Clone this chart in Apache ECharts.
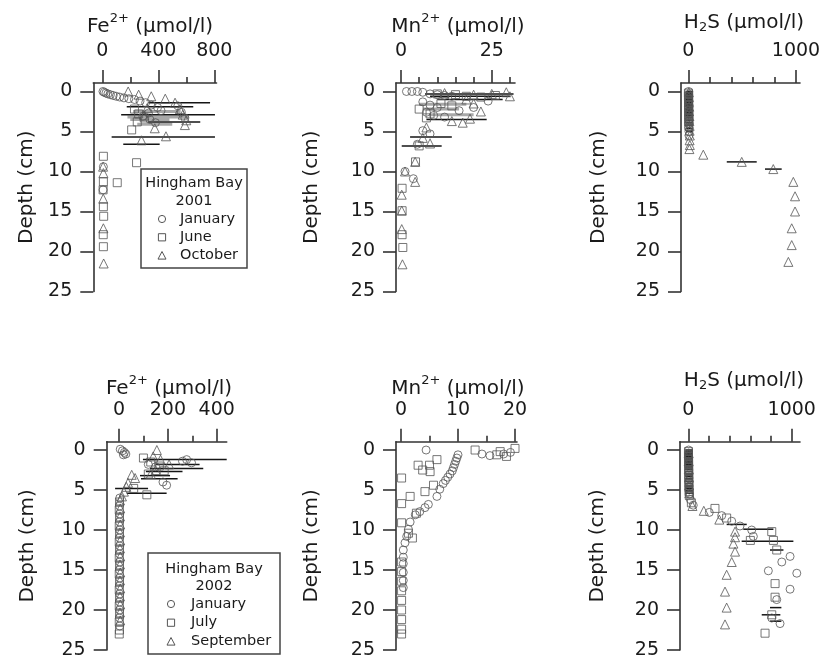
<!DOCTYPE html>
<html><head><meta charset="utf-8">
<script src="https://cdn.jsdelivr.net/npm/echarts@6/dist/echarts.min.js"></script>
<style>html,body{margin:0;padding:0;background:#fff}#c{width:827px;height:668px}</style>
</head><body><div id="c"></div>
<script>
// ---------- axis ticks ----------
const depthTicks = [0, 5, 10, 15, 20, 25];
const fe01Major = [0, 400, 800], fe01Minor = [200, 600];
const mn01Major = [0, 25], mn01Minor = [5, 10, 15, 20, 30];
const h2s01Major = [0, 1000], h2s01Minor = [200, 400, 600, 800];
const fe02Major = [0, 200, 400], fe02Minor = [100, 300];
const mn02Major = [0, 10, 20], mn02Minor = [5, 15];
const h2s02Major = [0, 1000], h2s02Minor = [200, 400, 600, 800];

// ---------- 2001 Fe2+ [value, depth] ----------
const fe01Jan = [[5,0],[14,0.1],[26,0.2],[40,0.3],[58,0.4],[78,0.5],[100,0.6],[125,0.7],[155,0.8],[190,0.9],[230,1.0],[270,1.2],[310,1.4],[350,1.7],[395,2.0],[420,2.4],[330,2.7],[290,3.1],[340,3.5],[380,3.9],[540,1.8],[565,2.6],[590,3.3],[8,9.4],[6,12.3]];
const fe01Jun = [[230,2.2],[260,2.8],[300,3.3],[250,3.8],[210,4.8],[245,8.9],[107,11.4],[8,8.1],[8,11.3],[6,12.3],[8,14.4],[10,15.6],[7,17.9],[8,19.4]];
const fe01Oct = [[185,0],[260,0.4],[350,0.6],[450,0.9],[520,1.4],[555,2.2],[575,2.9],[600,3.6],[590,4.2],[375,4.6],[300,3.0],[320,2.1],[455,5.6],[280,6.1],[6,9.4],[8,10.2],[7,13.4],[8,17.1],[10,21.5]];
const fe01ErrBlack = [[330,770,1.4],[175,650,1.9],[135,805,2.9],[327,700,3.8],[67,805,5.7],[150,410,6.6]];
const fe01ErrGray = [[220,560,2.5],[180,620,3.2],[200,480,3.5],[250,500,4.1]];

// ---------- 2001 Mn2+ ----------
const mn01Jan = [[1.5,0],[3,0],[4.5,0],[6,0.1],[8,0.3],[10,0.4],[12,0.5],[14,0.6],[6,1.3],[8,1.7],[10,2.0],[7,2.6],[9,3.0],[12,3.2],[16,2.4],[20,2.0],[24,1.2],[6,4.9],[8,5.3],[4.5,6.6],[1.1,10.0],[3.4,10.9]];
const mn01Jun = [[10,0.3],[15,0.4],[18,0.6],[22,0.7],[26,0.5],[5,2.2],[8,2.8],[11,1.5],[14,1.8],[7,3.3],[5,6.8],[4,8.8],[0.3,12.1],[0.3,14.9],[0.3,17.9],[0.5,19.5]];
const mn01Oct = [[12,0.2],[20,0.4],[25,0.3],[29,0.1],[30,0.6],[18,1.0],[20,1.5],[22,2.5],[14,3.7],[17,3.9],[19,3.4],[7,4.5],[6,5.8],[8,6.5],[3.9,8.8],[1.1,10.0],[3.9,11.3],[0.2,12.9],[0.2,14.9],[0.2,17.2],[0.4,21.6]];
const mn01ErrBlack = [[6.6,31,0.3],[8,30,0.6],[10,28,1.0],[7,23.6,3.5],[2.5,14,5.7],[0.2,11.2,6.8]];
const mn01ErrGray = [[5,18,1.6],[6,16,2.2],[8,20,2.9]];

// ---------- 2001 H2S ----------
const h2s01Jan = [[2,0],[2,0.4],[3,0.8],[3,1.2],[4,1.6],[4,2.0],[5,2.4],[5,2.8],[5,3.2],[6,3.6],[6,4.0],[6,4.5],[6,5.0],[6,5.5]];
const h2s01Jun = [[1,0.2],[1,0.6],[2,1.0],[2,1.4],[2,1.8],[3,2.2],[3,2.6],[3,3.0],[4,3.4],[4,3.8],[4,4.3]];
const h2s01Oct = [[5,0.1],[6,0.7],[6,1.3],[8,1.9],[8,2.5],[10,3.1],[10,3.7],[12,4.3],[12,4.9],[14,5.5],[12,6.1],[14,6.7],[10,7.2],[139,7.9],[496,8.8],[789,9.7],[975,11.3],[991,13.1],[991,15.0],[960,17.1],[960,19.2],[929,21.3]];
const h2s01ErrBlack = [[357,635,8.8],[712,867,9.7],[-25,45,0.0],[-25,45,0.2],[-25,45,0.4],[-25,45,0.6],[-25,45,0.8],[-25,45,1.0],[-25,45,1.2],[-25,45,1.4],[-25,45,1.6],[-25,45,1.8],[-25,45,2.0],[-25,45,2.2],[-25,45,2.4],[-25,45,2.6],[-25,45,2.8],[-25,45,3.0],[-25,45,3.3],[-25,45,3.6],[-25,45,3.9],[-20,40,4.2],[-20,40,4.6],[-20,40,5.0]];
const h2s01ErrGray = [];

// ---------- 2002 Fe2+ ----------
const fe02Jan = [[5,-0.1],[14,0.1],[22,0.3],[28,0.5],[18,0.6],[120,1.8],[150,2.1],[260,1.4],[277,1.2],[297,1.6],[180,4.0],[195,4.4],[3,6.0],[2,7.0],[3,8.0],[2,9.0],[3,10.0],[2,11.0],[3,12.0],[2,13.0],[3,14.0],[2,15.0],[3,16.0],[2,17.0],[3,18.0],[2,19.0],[3,20.0],[2,21.0],[3,22.0]];
const fe02Jul = [[100,1.0],[130,1.5],[165,2.0],[185,2.6],[120,3.0],[60,4.8],[114,5.6],[2,6.5],[1,7.5],[2,8.5],[1,9.5],[2,10.5],[1,11.5],[2,12.5],[1,13.5],[2,14.5],[1,15.5],[2,16.5],[1,17.5],[2,18.5],[1,19.5],[2,20.5],[1,21.5],[2,22.5],[1,23.0]];
const fe02Sep = [[155,0],[140,0.8],[170,1.2],[205,1.8],[150,2.5],[130,3.0],[52,3.1],[66,3.5],[37,4.1],[30,4.6],[20,5.2],[12,5.8],[4,6.3],[5,7.3],[4,8.3],[5,9.3],[4,10.3],[5,11.3],[4,12.3],[5,13.3],[4,14.3],[5,15.3],[4,16.3],[5,17.3],[4,18.3],[5,19.3],[4,20.3],[5,21.3]];
const fe02ErrBlack = [[98,441,1.2],[150,330,1.8],[127,345,2.3],[110,260,2.7],[86,209,3.2],[90,240,3.6],[-16,119,4.8],[32,195,5.4]];
const fe02ErrGray = [];

// ---------- 2002 Mn2+ ----------
const mn02Jan = [[4.4,0],[14.2,0.5],[15.6,0.7],[18,0.5],[19.2,0.3],[10,0.6],[9.8,1.0],[9.6,1.4],[9.4,1.8],[9.2,2.2],[9.0,2.6],[8.6,3.0],[8.2,3.4],[7.8,3.8],[7.4,4.2],[6.8,4.9],[6.3,5.8],[4.8,6.8],[4.2,7.2],[3.3,7.7],[2.5,8.1],[1.6,9.0],[1.3,9.9],[1.0,10.8],[0.7,11.6],[0.4,12.5],[0.4,13.4],[0.4,14.2],[0.4,15.3],[0.4,16.3],[0.4,17.2]];
const mn02Jul = [[20,-0.2],[17.4,0.2],[13,0],[16.8,0.6],[18.5,0.8],[5,1.9],[3,1.9],[6.3,1.2],[5.1,2.7],[3.8,2.5],[0.1,3.5],[5.7,4.4],[4.2,5.2],[1.6,5.8],[0.1,6.7],[2.7,7.9],[0.1,9.1],[1.3,10.4],[2.0,11.0],[0.1,14.0],[0.1,15.2],[0.1,16.4],[0.1,17.6],[0.1,18.8],[0.1,20.0],[0.1,21.2],[0.1,22.4],[0.1,23.0]];
const mn02Sep = [];
const mn02ErrBlack = [];
const mn02ErrGray = [];

// ---------- 2002 H2S ----------
const h2s02Jan = [[3,0],[3,0.5],[4,1.0],[4,1.5],[5,2.0],[5,2.5],[6,3.0],[6,3.5],[8,4.0],[8,4.5],[10,5.0],[12,5.5],[20,6.2],[48,6.9],[203,7.8],[323,8.2],[420,8.9],[500,9.5],[613,10.0],[629,10.8],[984,13.3],[904,14.0],[1049,15.4],[774,15.1],[984,17.4],[855,18.7],[807,21.0],[887,21.7]];
const h2s02Jul = [[2,0.2],[2,0.7],[3,1.2],[3,1.7],[4,2.2],[4,2.7],[5,3.2],[5,3.7],[6,4.2],[6,4.7],[8,5.2],[10,5.7],[30,6.6],[258,7.3],[371,8.5],[600,11.3],[807,10.2],[823,11.3],[855,12.5],[839,16.7],[839,18.4],[807,20.6],[742,22.9]];
const h2s02Sep = [[4,0.4],[4,1.4],[5,2.4],[6,3.4],[8,4.4],[10,5.4],[40,7.0],[150,7.6],[300,8.7],[452,10.2],[452,10.9],[436,11.7],[452,12.7],[420,14.0],[371,15.6],[355,17.7],[371,19.7],[355,21.8]];
const h2s02ErrBlack = [[371,565,9.3],[532,823,9.9],[516,1016,11.4],[790,920,12.5],[790,900,19.7],[710,890,20.6],[790,900,21.4],[-30,45,0.0],[-30,45,0.2],[-30,45,0.4],[-30,45,0.6],[-30,45,0.8],[-30,45,1.0],[-30,45,1.2],[-30,45,1.4],[-30,45,1.6],[-30,45,1.8],[-30,45,2.0],[-30,45,2.2],[-30,45,2.4],[-30,45,2.7],[-30,45,3.0],[-30,45,3.3],[-30,45,3.6],[-30,45,3.9],[-30,45,4.2],[-30,45,4.5],[-30,45,4.8],[-30,45,5.1],[-30,45,5.4]];
const h2s02ErrGray = [];

// ---------- layout (pixels / axis extents) ----------
const FONT = 'DejaVu Sans';
const TXT = '#1a1a1a';
const AX = '#333333';
const MK = '#555555';

const layout = [
  {left:93.3, top:83, width:123.2, height:208.5, xmin:-64, xmax:816, ymin:-1.06, ymax:25, nameGap:57},
  {left:396, top:83, width:119, height:208.5, xmin:-1.38, xmax:31.4, ymin:-1.06, ymax:25, nameGap:74},
  {left:681, top:83, width:119, height:208.5, xmin:-68, xmax:1037, ymin:-1.06, ymax:25, nameGap:72},
  {left:106.7, top:441.7, width:120, height:208.3, xmin:-50.4, xmax:441, ymin:-1.04, ymax:25, nameGap:69},
  {left:396, top:441.7, width:121, height:208.3, xmin:-0.88, xmax:20.35, ymin:-1.04, ymax:25, nameGap:74},
  {left:680, top:441.7, width:120, height:208.3, xmin:-80, xmax:1080, ymin:-1.04, ymax:25, nameGap:72}
];

const panels = [
  {major:fe01Major, minor:fe01Minor, sets:[fe01Jan, fe01Jun, fe01Oct], black:fe01ErrBlack, gray:fe01ErrGray},
  {major:mn01Major, minor:mn01Minor, sets:[mn01Jan, mn01Jun, mn01Oct], black:mn01ErrBlack, gray:mn01ErrGray},
  {major:h2s01Major, minor:h2s01Minor, sets:[h2s01Jan, h2s01Jun, h2s01Oct], black:h2s01ErrBlack, gray:h2s01ErrGray},
  {major:fe02Major, minor:fe02Minor, sets:[fe02Jan, fe02Jul, fe02Sep], black:fe02ErrBlack, gray:fe02ErrGray},
  {major:mn02Major, minor:mn02Minor, sets:[mn02Jan, mn02Jul, mn02Sep], black:mn02ErrBlack, gray:mn02ErrGray},
  {major:h2s02Major, minor:h2s02Minor, sets:[h2s02Jan, h2s02Jul, h2s02Sep], black:h2s02ErrBlack, gray:h2s02ErrGray}
];

const symbols = ['circle', 'rect', 'triangle'];
const symSizes = [8, 8, 9];

const grids = [], xAxes = [], yAxes = [], series = [];
const lineW = 1.6;
const plain = v => String(v);

function errRenderer(color, width) {
  return function (params, api) {
    const a = api.coord([api.value(0), api.value(2)]);
    const b = api.coord([api.value(1), api.value(2)]);
    return {type:'line', shape:{x1:a[0], y1:a[1], x2:b[0], y2:b[1]}, style:{stroke:color, lineWidth:width}};
  };
}

panels.forEach((p, i) => {
  const L = layout[i];
  grids.push({left:L.left, top:L.top, width:L.width, height:L.height, containLabel:false, outerBoundsMode:'none'});
  xAxes.push({type:'value', gridIndex:i, position:'top', min:L.xmin, max:L.xmax,
    splitLine:{show:false},
    axisLine:{show:true, onZero:false, lineStyle:{color:AX, width:lineW}},
    axisTick:{show:true, inside:false, length:13, customValues:p.major, lineStyle:{color:AX, width:lineW}},
    axisLabel:{show:true, customValues:p.major, formatter:plain, margin:22, fontFamily:FONT, fontSize:19, color:TXT}});
  xAxes.push({type:'value', gridIndex:i, position:'top', min:L.xmin, max:L.xmax,
    splitLine:{show:false},
    axisLine:{show:false, onZero:false},
    axisTick:{show:true, inside:false, length:6, customValues:p.minor, lineStyle:{color:AX, width:lineW}},
    axisLabel:{show:false}});
  yAxes.push({type:'value', gridIndex:i, position:'left', inverse:true, min:L.ymin, max:L.ymax,
    splitLine:{show:false},
    axisLine:{show:true, onZero:false, lineStyle:{color:AX, width:lineW}},
    axisTick:{show:true, inside:false, length:13, customValues:depthTicks, lineStyle:{color:AX, width:lineW}},
    axisLabel:{show:true, customValues:depthTicks, formatter:plain, margin:21, fontFamily:FONT, fontSize:19, color:TXT},
    name:'Depth (cm)', nameLocation:'middle', nameGap:L.nameGap,
    nameTextStyle:{fontFamily:FONT, fontSize:20, color:TXT}});
  series.push({type:'custom', xAxisIndex:2*i, yAxisIndex:i, data:p.gray, silent:true, z:1,
    encode:{x:[0,1], y:2}, renderItem:errRenderer('#a8a8a8', 3)});
  series.push({type:'custom', xAxisIndex:2*i, yAxisIndex:i, data:p.black, silent:true, z:2,
    encode:{x:[0,1], y:2}, renderItem:errRenderer('#151515', 1.5)});
  p.sets.forEach((d, k) => {
    series.push({type:'scatter', xAxisIndex:2*i, yAxisIndex:i, data:d, symbol:symbols[k], symbolSize:symSizes[k],
      silent:true, z:3, itemStyle:{color:'rgba(255,255,255,0)', borderColor:MK, borderWidth:1}});
  });
});

// ---------- titles and legends (text) ----------
const richSup = {
  a:{fontFamily:FONT, fontSize:20, fill:TXT, lineHeight:30},
  s:{fontFamily:FONT, fontSize:13, fill:TXT, verticalAlign:'top'}
};
const richSub = {
  a:{fontFamily:FONT, fontSize:20, fill:TXT, lineHeight:22},
  s:{fontFamily:FONT, fontSize:13, fill:TXT, verticalAlign:'bottom'}
};
const titles = [
  {text:'{a|Fe}{s|2+}{a| (µmol/l)}', x:150, y:27, rich:richSup},
  {text:'{a|Mn}{s|2+}{a| (µmol/l)}', x:458, y:27, rich:richSup},
  {text:'{a|H}{s|2}{a|S (µmol/l)}', x:744, y:23, rich:richSub},
  {text:'{a|Fe}{s|2+}{a| (µmol/l)}', x:169, y:389, rich:richSup},
  {text:'{a|Mn}{s|2+}{a| (µmol/l)}', x:458, y:389, rich:richSup},
  {text:'{a|H}{s|2}{a|S (µmol/l)}', x:744, y:381, rich:richSub}
];
const legend01 = ['Hingham Bay', '2001', 'January', 'June', 'October'];
const legend02 = ['Hingham Bay', '2002', 'January', 'July', 'September'];

function legendGroup(labels, box, symX, textX, rows) {
  const els = [];
  els.push({type:'rect', shape:{x:box[0], y:box[1], width:box[2], height:box[3]}, style:{fill:'#fff', stroke:'#444', lineWidth:1.5}});
  const cx = box[0] + box[2] / 2;
  els.push({type:'text', style:{text:labels[0], x:cx, y:rows[0], align:'center', verticalAlign:'middle', fontFamily:FONT, fontSize:14.5, fill:TXT}});
  els.push({type:'text', style:{text:labels[1], x:cx, y:rows[1], align:'center', verticalAlign:'middle', fontFamily:FONT, fontSize:14.5, fill:TXT}});
  const sy = rows.slice(2);
  els.push({type:'circle', shape:{cx:symX, cy:sy[0], r:3.6}, style:{fill:'none', stroke:MK, lineWidth:1}});
  els.push({type:'rect', shape:{x:symX-3.6, y:sy[1]-3.6, width:7.2, height:7.2}, style:{fill:'none', stroke:MK, lineWidth:1}});
  els.push({type:'polygon', shape:{points:[[symX, sy[2]-4.2],[symX+4,sy[2]+3.4],[symX-4,sy[2]+3.4]]}, style:{fill:'none', stroke:MK, lineWidth:1}});
  for (let k = 0; k < 3; k++) {
    els.push({type:'text', style:{text:labels[2+k], x:textX, y:sy[k], align:'left', verticalAlign:'middle', fontFamily:FONT, fontSize:14.5, fill:TXT}});
  }
  return {type:'group', children:els, z:10};
}

const graphic = titles.map(t => ({type:'text', z:10, style:{text:t.text, x:t.x, y:t.y, align:'center', verticalAlign:'middle', rich:t.rich, fontFamily:FONT, fontSize:20, fill:TXT}}));
graphic.push(legendGroup(legend01, [141, 169, 106, 99], 162, 180, [183, 201, 219, 237.3, 255.7]));
graphic.push(legendGroup(legend02, [148, 553, 132, 101], 171, 191, [569, 586, 604, 622.7, 641.7]));

const chart = echarts.init(document.getElementById('c'), null, {renderer:'canvas'});
chart.setOption({
  animation:false,
  backgroundColor:'#ffffff',
  grid:grids, xAxis:xAxes, yAxis:yAxes, series:series, graphic:graphic
});
</script></body></html>
